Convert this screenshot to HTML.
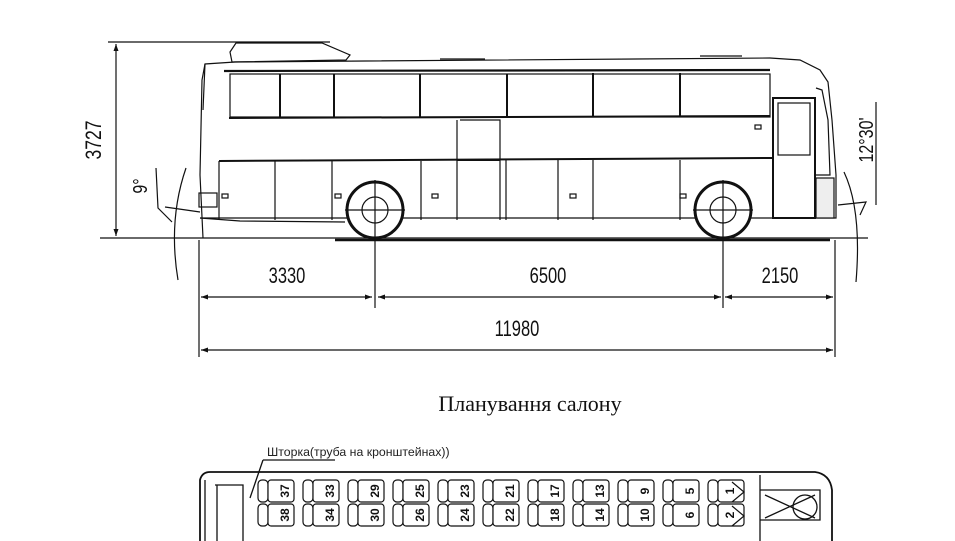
<!DOCTYPE html>
<html><head><meta charset="utf-8"><style>
html,body{margin:0;padding:0;background:#fff;width:955px;height:541px;overflow:hidden}
svg{display:block}
.t{font-family:"Liberation Sans",sans-serif;fill:#111}
</style></head><body>
<svg width="955" height="541" viewBox="0 0 955 541" xmlns="http://www.w3.org/2000/svg">
<defs>
<marker id="a" markerWidth="7" markerHeight="5" refX="7" refY="2.5" orient="auto-start-reverse" markerUnits="userSpaceOnUse"><path d="M0,0 L7,2.5 L0,5 z" fill="#111"/></marker>
</defs>
<g stroke="#111" fill="none" stroke-width="1.2">
<line x1="108" y1="42" x2="330" y2="42"/>
<line x1="116" y1="44" x2="116" y2="236" marker-start="url(#a)" marker-end="url(#a)"/>
<line x1="100" y1="238" x2="868" y2="238"/>
<line x1="335" y1="240" x2="830" y2="240" stroke-width="2.5"/>
<path d="M232,62 L230,52 L236,43 L322,43 L350,55 L346,60 Z"/>
<path d="M440,59 L485,59 M700,56 L742,56"/>
<path d="M203,238 L200,175 L202,80 L205,64 L235,62 L770,58 L800,60 L820,70 L828,82 L832,120 L836,175 L836,218 L200,218" />
<path d="M205,64 L203,110"/>
<line x1="224" y1="71" x2="770" y2="70" stroke-width="2.2"/>
<line x1="229" y1="118" x2="770" y2="116" stroke-width="2"/>
<rect x="230" y="74" width="540" height="43"/>
<g stroke-width="2">
<line x1="280" y1="74" x2="280" y2="117"/><line x1="334" y1="74" x2="334" y2="117"/>
<line x1="420" y1="74" x2="420" y2="117"/><line x1="507" y1="74" x2="507" y2="117"/>
<line x1="593" y1="73" x2="593" y2="116"/><line x1="680" y1="73" x2="680" y2="116"/>
</g>
<line x1="219" y1="161" x2="772" y2="158" stroke-width="2"/>
<path d="M219,161 L219,220 M275,161 L275,220 M332,161 L332,220 M421,161 L421,220 M457,120 L457,220 M460,120 L500,120 L500,220 M506,160 L506,220 M558,160 L558,220 M593,160 L593,220 M680,160 L680,220"/>
<line x1="457" y1="160" x2="500" y2="160" stroke-width="2"/>
<rect x="199" y="193" width="18" height="14"/>
<path d="M200,218 L240,221 L345,222"/>
<rect x="773" y="98" width="42" height="120" stroke-width="2"/>
<rect x="778" y="103" width="32" height="52"/>
<path d="M816,88 L822,90 L828,120 L830,175 L815,175"/>
<rect x="816" y="178" width="18" height="40" fill="#eee"/>
<rect x="755" y="125" width="6" height="4"/><rect x="570" y="194" width="6" height="4"/><rect x="432" y="194" width="6" height="4"/><rect x="222" y="194" width="6" height="4"/><rect x="335" y="194" width="6" height="4"/><rect x="680" y="194" width="6" height="4"/>
<circle cx="375" cy="210" r="28" stroke-width="3" fill="#fff"/>
<circle cx="375" cy="210" r="13"/>
<circle cx="723" cy="210" r="28" stroke-width="3" fill="#fff"/>
<circle cx="723" cy="210" r="13"/>
<path d="M345,210 L405,210 M375,180 L375,308 M693,210 L753,210 M723,180 L723,308"/>
<path d="M156,168 L158,208 L172,222 M165,207 L200,212 M186,168 Q168,220 178,280"/>
<path d="M844,172 Q862,210 856,282 M838,205 L866,202 L860,215 M876,102 L876,205"/>
<path d="M199,240 L199,357 M835,240 L835,357"/>
<line x1="201" y1="297" x2="372" y2="297" marker-start="url(#a)" marker-end="url(#a)"/>
<line x1="378" y1="297" x2="721" y2="297" marker-start="url(#a)" marker-end="url(#a)"/>
<line x1="725" y1="297" x2="833" y2="297" marker-start="url(#a)" marker-end="url(#a)"/>
<line x1="201" y1="350" x2="833" y2="350" marker-start="url(#a)" marker-end="url(#a)"/>
</g>
<g class="t" font-size="22">
<text transform="translate(287,283) scale(0.75,1)" text-anchor="middle">3330</text>
<text transform="translate(548,283) scale(0.75,1)" text-anchor="middle">6500</text>
<text transform="translate(780,283) scale(0.75,1)" text-anchor="middle">2150</text>
<text transform="translate(517,336) scale(0.75,1)" text-anchor="middle">11980</text>
<text transform="translate(101,140) rotate(-90) scale(0.8,1)" text-anchor="middle">3727</text>
<text transform="translate(147,186) rotate(-90) scale(0.8,1)" text-anchor="middle" font-size="20">9°</text>
<text transform="translate(873,140) rotate(-90) scale(0.8,1)" text-anchor="middle" font-size="20">12°30'</text>
</g>
<text x="530" y="411" text-anchor="middle" font-family="Liberation Serif,serif" font-size="22" fill="#111">Планування салону</text>
<text x="267" y="456" font-family="Liberation Sans,sans-serif" font-size="12.3" fill="#222">Шторка(труба на кронштейнах))</text>
<g stroke="#111" fill="none" stroke-width="1.3">
<path d="M263,460 L335,460 M263,460 L250,498"/>
<path d="M200,541 L200,480 Q202,472 210,472 L815,472 Q830,474 832,490 L832,541" stroke-width="1.8"/>
<path d="M205,480 L205,541 M215,485 L243,485 L243,541 M217,485 L217,541 M760,475 L760,541 M760,490 L820,490 L820,520 L760,520"/>
<path d="M765,495 L815,518 M765,518 L815,495"/>
<circle cx="805" cy="507" r="12"/>
</g>
<g stroke="#111" stroke-width="1.2">
<g transform="translate(258,0)"><rect x="0" y="480" width="10" height="22" rx="4" fill="#fff"/><rect x="0" y="504" width="10" height="22" rx="4" fill="#fff"/><rect x="10" y="480" width="26" height="22" rx="3" fill="#fff"/><rect x="10" y="504" width="26" height="22" rx="3" fill="#fff"/></g>
<g transform="translate(303,0)"><rect x="0" y="480" width="10" height="22" rx="4" fill="#fff"/><rect x="0" y="504" width="10" height="22" rx="4" fill="#fff"/><rect x="10" y="480" width="26" height="22" rx="3" fill="#fff"/><rect x="10" y="504" width="26" height="22" rx="3" fill="#fff"/></g>
<g transform="translate(348,0)"><rect x="0" y="480" width="10" height="22" rx="4" fill="#fff"/><rect x="0" y="504" width="10" height="22" rx="4" fill="#fff"/><rect x="10" y="480" width="26" height="22" rx="3" fill="#fff"/><rect x="10" y="504" width="26" height="22" rx="3" fill="#fff"/></g>
<g transform="translate(393,0)"><rect x="0" y="480" width="10" height="22" rx="4" fill="#fff"/><rect x="0" y="504" width="10" height="22" rx="4" fill="#fff"/><rect x="10" y="480" width="26" height="22" rx="3" fill="#fff"/><rect x="10" y="504" width="26" height="22" rx="3" fill="#fff"/></g>
<g transform="translate(438,0)"><rect x="0" y="480" width="10" height="22" rx="4" fill="#fff"/><rect x="0" y="504" width="10" height="22" rx="4" fill="#fff"/><rect x="10" y="480" width="26" height="22" rx="3" fill="#fff"/><rect x="10" y="504" width="26" height="22" rx="3" fill="#fff"/></g>
<g transform="translate(483,0)"><rect x="0" y="480" width="10" height="22" rx="4" fill="#fff"/><rect x="0" y="504" width="10" height="22" rx="4" fill="#fff"/><rect x="10" y="480" width="26" height="22" rx="3" fill="#fff"/><rect x="10" y="504" width="26" height="22" rx="3" fill="#fff"/></g>
<g transform="translate(528,0)"><rect x="0" y="480" width="10" height="22" rx="4" fill="#fff"/><rect x="0" y="504" width="10" height="22" rx="4" fill="#fff"/><rect x="10" y="480" width="26" height="22" rx="3" fill="#fff"/><rect x="10" y="504" width="26" height="22" rx="3" fill="#fff"/></g>
<g transform="translate(573,0)"><rect x="0" y="480" width="10" height="22" rx="4" fill="#fff"/><rect x="0" y="504" width="10" height="22" rx="4" fill="#fff"/><rect x="10" y="480" width="26" height="22" rx="3" fill="#fff"/><rect x="10" y="504" width="26" height="22" rx="3" fill="#fff"/></g>
<g transform="translate(618,0)"><rect x="0" y="480" width="10" height="22" rx="4" fill="#fff"/><rect x="0" y="504" width="10" height="22" rx="4" fill="#fff"/><rect x="10" y="480" width="26" height="22" rx="3" fill="#fff"/><rect x="10" y="504" width="26" height="22" rx="3" fill="#fff"/></g>
<g transform="translate(663,0)"><rect x="0" y="480" width="10" height="22" rx="4" fill="#fff"/><rect x="0" y="504" width="10" height="22" rx="4" fill="#fff"/><rect x="10" y="480" width="26" height="22" rx="3" fill="#fff"/><rect x="10" y="504" width="26" height="22" rx="3" fill="#fff"/></g>
<g transform="translate(708,0)"><rect x="0" y="480" width="10" height="22" rx="4" fill="#fff"/><rect x="0" y="504" width="10" height="22" rx="4" fill="#fff"/><rect x="10" y="480" width="26" height="22" rx="3" fill="#fff"/><rect x="10" y="504" width="26" height="22" rx="3" fill="#fff"/><path d="M24,482 L36,492 L24,502 M24,506 L36,516 L24,526" fill="none"/></g>
</g>
<g font-family="Liberation Sans,sans-serif" font-size="12" font-weight="bold" fill="#111" text-anchor="middle">
<text transform="translate(285,491) rotate(-90)" dy="4">37</text><text transform="translate(285,515) rotate(-90)" dy="4">38</text>
<text transform="translate(330,491) rotate(-90)" dy="4">33</text><text transform="translate(330,515) rotate(-90)" dy="4">34</text>
<text transform="translate(375,491) rotate(-90)" dy="4">29</text><text transform="translate(375,515) rotate(-90)" dy="4">30</text>
<text transform="translate(420,491) rotate(-90)" dy="4">25</text><text transform="translate(420,515) rotate(-90)" dy="4">26</text>
<text transform="translate(465,491) rotate(-90)" dy="4">23</text><text transform="translate(465,515) rotate(-90)" dy="4">24</text>
<text transform="translate(510,491) rotate(-90)" dy="4">21</text><text transform="translate(510,515) rotate(-90)" dy="4">22</text>
<text transform="translate(555,491) rotate(-90)" dy="4">17</text><text transform="translate(555,515) rotate(-90)" dy="4">18</text>
<text transform="translate(600,491) rotate(-90)" dy="4">13</text><text transform="translate(600,515) rotate(-90)" dy="4">14</text>
<text transform="translate(645,491) rotate(-90)" dy="4">9</text><text transform="translate(645,515) rotate(-90)" dy="4">10</text>
<text transform="translate(690,491) rotate(-90)" dy="4">5</text><text transform="translate(690,515) rotate(-90)" dy="4">6</text>
<text transform="translate(730,491) rotate(-90)" dy="4">1</text><text transform="translate(730,515) rotate(-90)" dy="4">2</text>
</g>
</svg>
</body></html>
